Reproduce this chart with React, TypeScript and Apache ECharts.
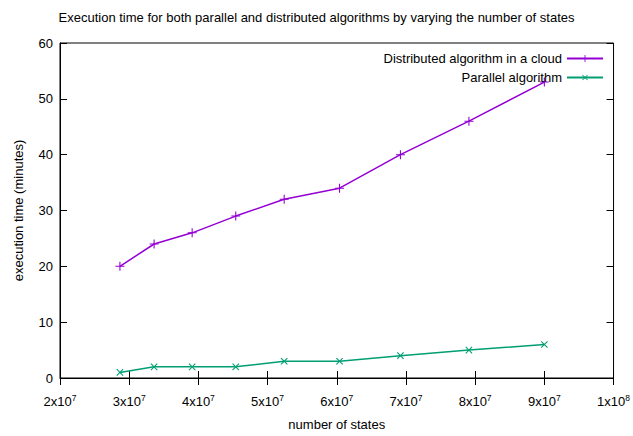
import React, { useEffect, useRef } from "react";
import * as echarts from "echarts";

const TITLE = "Execution time for both parallel and distributed algorithms by varying the number of states";
const X_NAME = "number of states";
const Y_NAME = "execution time (minutes)";
const SERIES_NAMES = ["Distributed algorithm in a cloud", "Parallel algorithm"];
const numStates = [2.866e7, 3.36e7, 3.91e7, 4.54e7, 5.24e7, 6.04e7, 6.92e7, 7.91e7, 9.0e7];
const distributed = [20, 24, 26, 29, 32, 34, 40, 46, 53];
const parallel = [1, 2, 2, 2, 3, 3, 4, 5, 6];

const FONT = "Liberation Sans";
const FS = 13;
const PURPLE = "#9400d3";
const GREEN = "#009e73";
const PLUS = "path://M0,4.4h10v1.2h-10z M4.4,0h1.2v10h-1.2z";

function fmtSci(v: number) {
  const e = Math.floor(Math.log10(v) + 1e-9);
  const m = Math.round(v / Math.pow(10, e));
  return `{b|${m}x10}{sup|${e}}`;
}

export default function App() {
  const ref = useRef<HTMLDivElement>(null);
  useEffect(() => {
    const chart = echarts.init(ref.current!, null, { renderer: "svg" });
    const tickCommon = { inside: true, length: 7, lineStyle: { color: "#000", width: 1 } };
    const legendCommon = {
      right: 29,
      padding: 0,
      align: "right",
      itemWidth: 36,
      itemHeight: 9,
      itemGap: 0,
      textStyle: { fontFamily: FONT, fontSize: FS, color: "#000" },
    };
    chart.setOption({
      animation: false,
      backgroundColor: "#fff",
      textStyle: { fontFamily: FONT },
      title: {
        text: TITLE,
        left: "center",
        top: 6,
        textStyle: { fontFamily: FONT, fontSize: FS, fontWeight: "normal", color: "#000" },
      },
      legend: [
        { ...legendCommon, data: [SERIES_NAMES[0]], top: 52 },
        { ...legendCommon, data: [SERIES_NAMES[1]], top: 71 },
      ],
      grid: {
        left: 60,
        right: 15,
        top: 43,
        bottom: 56,
        show: true,
        borderColor: "#000",
        borderWidth: 1,
        backgroundColor: "transparent",
      },
      xAxis: [
        {
          type: "value",
          min: 2e7,
          max: 1e8,
          interval: 1e7,
          name: X_NAME,
          nameLocation: "middle",
          nameGap: 40,
          nameTextStyle: { fontFamily: FONT, fontSize: FS, color: "#000" },
          axisLine: { show: true, lineStyle: { color: "#000" } },
          axisTick: tickCommon,
          splitLine: { show: false },
          axisLabel: {
            margin: 15,
            formatter: fmtSci,
            color: "#000",
            rich: {
              b: { fontFamily: FONT, fontSize: FS, color: "#000", lineHeight: 15, verticalAlign: "bottom" },
              sup: { fontFamily: FONT, fontSize: 8.5, color: "#000", lineHeight: 15, verticalAlign: "top", padding: [0, 0, 6, 0] },
            },
          },
        },
        {
          type: "value",
          position: "top",
          min: 2e7,
          max: 1e8,
          interval: 1e7,
          axisLine: { show: false },
          axisTick: tickCommon,
          axisLabel: { show: false },
          splitLine: { show: false },
        },
      ],
      yAxis: [
        {
          type: "value",
          min: 0,
          max: 60,
          interval: 10,
          name: Y_NAME,
          nameLocation: "middle",
          nameGap: 35,
          nameTextStyle: { fontFamily: FONT, fontSize: FS, color: "#000" },
          axisLine: { show: true, lineStyle: { color: "#000" } },
          axisTick: tickCommon,
          splitLine: { show: false },
          axisLabel: { margin: 7, fontFamily: FONT, fontSize: FS, color: "#000" },
        },
        {
          type: "value",
          position: "right",
          min: 0,
          max: 60,
          interval: 10,
          axisLine: { show: false },
          axisTick: tickCommon,
          axisLabel: { show: false },
          splitLine: { show: false },
        },
      ],
      series: [
        {
          name: SERIES_NAMES[0],
          type: "line",
          data: numStates.map((x, i) => [x, distributed[i]]),
          symbol: PLUS,
          symbolSize: 9,
          color: PURPLE,
          itemStyle: { color: PURPLE },
          lineStyle: { color: PURPLE, width: 1.5 },
        },
        {
          name: SERIES_NAMES[1],
          type: "line",
          data: numStates.map((x, i) => [x, parallel[i]]),
          symbol: PLUS,
          symbolSize: 9,
          symbolRotate: 45,
          color: GREEN,
          itemStyle: { color: GREEN },
          lineStyle: { color: GREEN, width: 1.5 },
        },
      ],
    });
    return () => chart.dispose();
  }, []);
  return (
    <div
      ref={ref}
      style={{ position: "absolute", left: 0, top: 0, width: 633, height: 436 }}
    />
  );
}
